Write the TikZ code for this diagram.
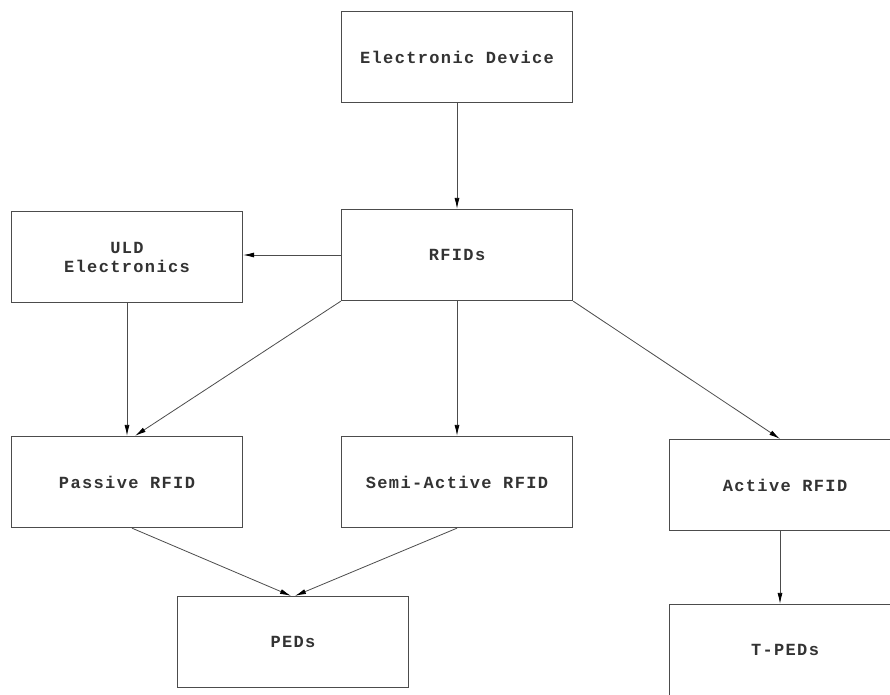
\documentclass[tikz,border=0pt]{standalone}
\usepackage{fontspec}
\newfontfamily\boxfont[LetterSpace=8]{Liberation Mono}
\usetikzlibrary{arrows.meta}
\begin{document}
\begin{tikzpicture}[x=1pt,y=-1pt,
  box/.style={draw=black!70,line width=1.3pt,minimum width=231pt,minimum height=91pt,inner sep=0pt,
    font=\boxfont\bfseries\fontsize{17}{19}\selectfont,text=black!80,align=center},
  link/.style={draw=black!70,line width=0.8pt,-{Latex[length=11pt,width=5pt,fill=black,color=black]}}]
\useasboundingbox (0,0) rectangle (890,694);
\clip (0,0) rectangle (890,694);
\fill[white] (0,0) rectangle (890,694);
\node[box] (ed) at (457,57) {Electronic Device};
\node[box] (rf) at (457,255) {RFIDs};
\node[box] (uld) at (127,257) {ULD\\Electronics};
\node[box] (pas) at (127,482) {Passive RFID};
\node[box] (semi) at (457,482) {Semi-Active RFID};
\node[box] (act) at (785,485) {Active RFID};
\node[box] (ped) at (293,642) {PEDs};
\node[box] (tped) at (785,650) {T-PEDs};
\draw[link] (ed.south) -- (rf.north);
\draw[link] (rf.west) -- (uld.east |- rf.west);
\draw[link] (uld.south) -- (pas.north);
\draw[link] (rf.south west) -- ([xshift=8pt]pas.north);
\draw[link] (rf.south) -- (semi.north);
\draw[link] (rf.south east) -- ([xshift=-5pt]act.north);
\draw[link] ([xshift=5pt]pas.south) -- ([xshift=-2pt]ped.north);
\draw[link] (semi.south) -- ([xshift=2pt]ped.north);
\draw[link] ([xshift=-5pt]act.south) -- ([xshift=-5pt]tped.north);
\end{tikzpicture}
\end{document}
